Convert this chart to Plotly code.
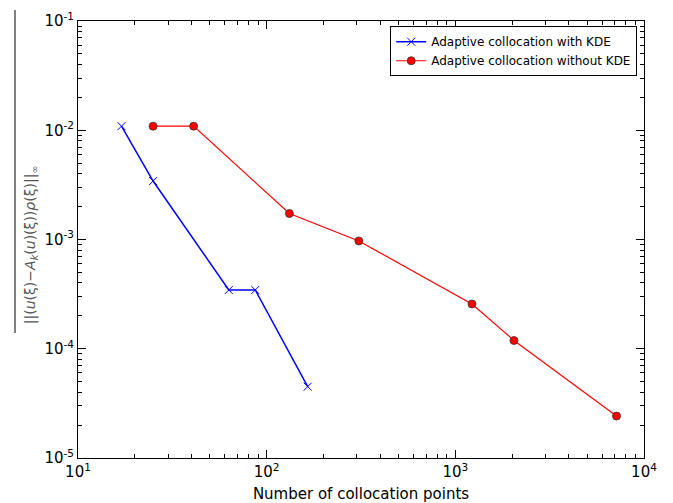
import plotly.graph_objects as go

# Data
kde_points = [17, 25, 63, 87, 165]
kde_error = [1.09e-2, 3.43e-3, 3.45e-4, 3.45e-4, 4.5e-5]

nokde_points = [25, 41, 132, 308, 1225, 2045, 7150]
nokde_error = [1.09e-2, 1.09e-2, 1.73e-3, 9.7e-4, 2.57e-4, 1.19e-4, 2.42e-5]

x_tickvals = [10, 100, 1000, 10000]
x_ticktext = ["10<sup>1</sup>", "10<sup>2</sup>", "10<sup>3</sup>", "10<sup>4</sup>"]
y_tickvals = [1e-5, 1e-4, 1e-3, 1e-2, 1e-1]
y_ticktext = ["10<sup>-5</sup>", "10<sup>-4</sup>", "10<sup>-3</sup>", "10<sup>-2</sup>", "10<sup>-1</sup>"]

y_label = "||(<i>u</i>(ξ)−<i>A</i><sub><i>k</i></sub>(<i>u</i>)(ξ))<i>ρ</i>(ξ)||<sub>∞</sub>"

FONT = "DejaVu Sans"

fig = go.Figure()
fig.add_trace(go.Scatter(
    x=kde_points, y=kde_error, mode="lines+markers",
    name="Adaptive collocation with KDE",
    line=dict(color="#0000ff", width=1.5),
    marker=dict(symbol="x-thin", size=8, line=dict(color="#0000ff", width=1)),
))
fig.add_trace(go.Scatter(
    x=nokde_points, y=nokde_error, mode="lines+markers",
    name="Adaptive collocation without KDE",
    line=dict(color="#ff0000", width=1.2),
    marker=dict(symbol="circle", size=8, color="#ff0000", line=dict(color="#333333", width=0.8)),
))

axis_common = dict(
    type="log", showgrid=False, zeroline=False, automargin=False,
    showline=True, linecolor="black", linewidth=1, mirror="allticks",
    ticks="inside", ticklen=8, tickwidth=1, tickcolor="black",
    tickfont=dict(family=FONT, size=15, color="black"),
    minor=dict(ticks="inside", ticklen=4, tickwidth=1, tickcolor="black", dtick="D1", showgrid=False),
)

fig.update_xaxes(
    **axis_common, range=[1, 4], tickvals=x_tickvals, ticktext=x_ticktext,
    title=dict(text="Number of collocation points", font=dict(family=FONT, size=15, color="black")),
)
fig.update_yaxes(
    **axis_common, range=[-5, -1], tickvals=y_tickvals, ticktext=y_ticktext,
)

fig.add_annotation(
    text=y_label, textangle=-90, xref="paper", yref="paper",
    x=-0.083, y=0.487, xanchor="center", yanchor="middle", showarrow=False,
    font=dict(family=FONT, size=14, color="#555555"),
)

fig.add_shape(type="line", xref="paper", yref="paper",
              x0=-0.1113, x1=-0.1113, y0=0.286, y1=1.025,
              line=dict(color="black", width=1))

fig.update_layout(
    width=673, height=503,
    margin=dict(l=78, r=29, t=21, b=45),
    paper_bgcolor="white", plot_bgcolor="white",
    font=dict(family=FONT),
    legend=dict(
        x=0.988, y=0.988, xanchor="right", yanchor="top",
        bordercolor="black", borderwidth=1, bgcolor="white",
        font=dict(family=FONT, size=12, color="black"),
        tracegroupgap=0, itemwidth=30,
    ),
    showlegend=True,
)

fig.write_html("out.html")
